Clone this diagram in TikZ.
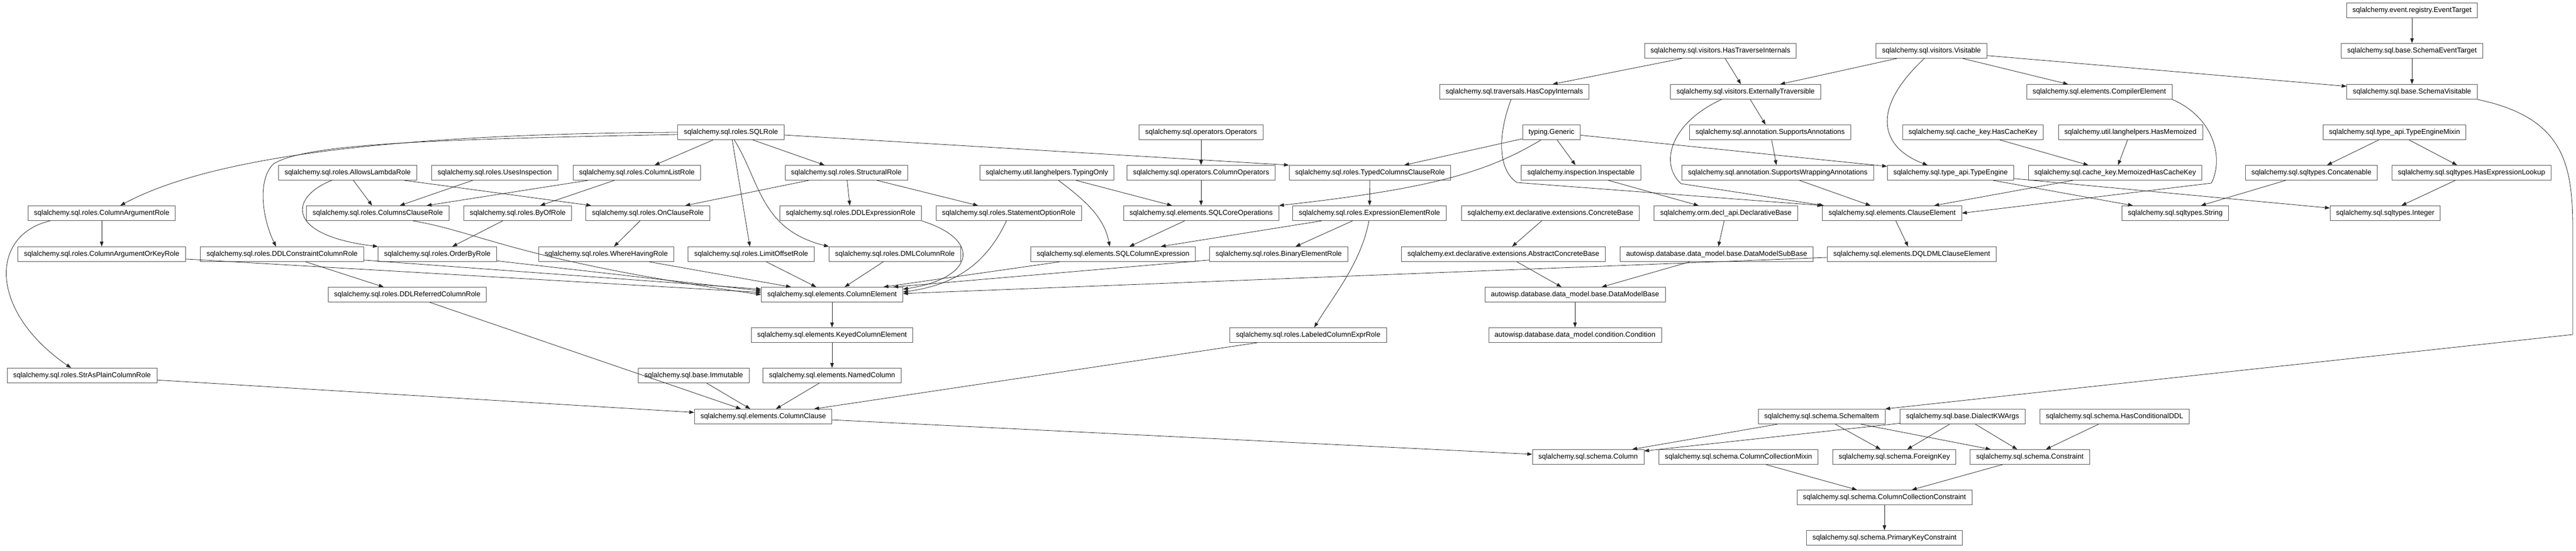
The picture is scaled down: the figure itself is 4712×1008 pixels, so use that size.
\documentclass[tikz,border=0pt]{standalone}
\usepackage{fontspec}
\setmainfont{Liberation Sans}
\usetikzlibrary{arrows.meta}

\begin{document}
\begin{tikzpicture}[x=1pt, y=-1pt,
    cls/.style={draw=black!65, line width=0.9pt, rectangle, minimum height=27pt,
        inner xsep=11pt, inner ysep=0pt, font=\fontsize{13}{15}\selectfont},
    inh/.style={-{Triangle[length=9pt,width=6.5pt]}, draw=black!85, line width=0.8pt}]
    \useasboundingbox (0,0) rectangle (4712,1008);
    % rank 0 to 3
    \node[cls] (evtarget) at (4412,19) {sqlalchemy.event.registry.EventTarget};
    \node[cls] (hastrav) at (3147,93) {sqlalchemy.sql.visitors.HasTraverseInternals};
    \node[cls] (visitable) at (3533,93) {sqlalchemy.sql.visitors.Visitable};
    \node[cls] (schevtarget) at (4412,93) {sqlalchemy.sql.base.SchemaEventTarget};
    \node[cls] (hascopy) at (2770,168) {sqlalchemy.sql.traversals.HasCopyInternals};
    \node[cls] (exttrav) at (3193,168) {sqlalchemy.sql.visitors.ExternallyTraversible};
    \node[cls] (compel) at (3840,168) {sqlalchemy.sql.elements.CompilerElement};
    \node[cls] (schvis) at (4412,168) {sqlalchemy.sql.base.SchemaVisitable};
    \node[cls] (sqlrole) at (1337,242) {sqlalchemy.sql.roles.SQLRole};
    \node[cls] (operators) at (2197,242) {sqlalchemy.sql.operators.Operators};
    \node[cls] (generic) at (2838,242) {typing.Generic};
    \node[cls] (suppann) at (3238,242) {sqlalchemy.sql.annotation.SupportsAnnotations};
    \node[cls] (hascachekey) at (3609,242) {sqlalchemy.sql.cache\_key.HasCacheKey};
    \node[cls] (hasmemo) at (3897,242) {sqlalchemy.util.langhelpers.HasMemoized};
    \node[cls] (temixin) at (4380,242) {sqlalchemy.sql.type\_api.TypeEngineMixin};
    % rank 4
    \node[cls] (allowslam) at (636,316) {sqlalchemy.sql.roles.AllowsLambdaRole};
    \node[cls] (usesinsp) at (905,316) {sqlalchemy.sql.roles.UsesInspection};
    \node[cls] (collist) at (1165,316) {sqlalchemy.sql.roles.ColumnListRole};
    \node[cls] (structural) at (1548,316) {sqlalchemy.sql.roles.StructuralRole};
    \node[cls] (typingonly) at (1915,316) {sqlalchemy.util.langhelpers.TypingOnly};
    \node[cls] (colops) at (2197,316) {sqlalchemy.sql.operators.ColumnOperators};
    \node[cls] (typedcols) at (2506,316) {sqlalchemy.sql.roles.TypedColumnsClauseRole};
    \node[cls] (inspectable) at (2892,316) {sqlalchemy.inspection.Inspectable};
    \node[cls] (suppwrap) at (3252,316) {sqlalchemy.sql.annotation.SupportsWrappingAnnotations};
    \node[cls] (typeengine) at (3568,316) {sqlalchemy.sql.type\_api.TypeEngine};
    \node[cls] (memocache) at (3869,316) {sqlalchemy.sql.cache\_key.MemoizedHasCacheKey};
    \node[cls] (concat) at (4228,316) {sqlalchemy.sql.sqltypes.Concatenable};
    \node[cls] (hasexpr) at (4521,316) {sqlalchemy.sql.sqltypes.HasExpressionLookup};
    % rank 5
    \node[cls] (colarg) at (186,390) {sqlalchemy.sql.roles.ColumnArgumentRole};
    \node[cls] (colsclause) at (691,390) {sqlalchemy.sql.roles.ColumnsClauseRole};
    \node[cls] (byof) at (947,390) {sqlalchemy.sql.roles.ByOfRole};
    \node[cls] (onclause) at (1185,390) {sqlalchemy.sql.roles.OnClauseRole};
    \node[cls] (ddlexpr) at (1556,390) {sqlalchemy.sql.roles.DDLExpressionRole};
    \node[cls] (stmtopt) at (1845,390) {sqlalchemy.sql.roles.StatementOptionRole};
    \node[cls] (sqlcore) at (2197,390) {sqlalchemy.sql.elements.SQLCoreOperations};
    \node[cls] (exprel) at (2505,390) {sqlalchemy.sql.roles.ExpressionElementRole};
    \node[cls] (concbase) at (2836,390) {sqlalchemy.ext.declarative.extensions.ConcreteBase};
    \node[cls] (declbase) at (3157,390) {sqlalchemy.orm.decl\_api.DeclarativeBase};
    \node[cls] (clauseel) at (3461,390) {sqlalchemy.sql.elements.ClauseElement};
    \node[cls] (string) at (3979,390) {sqlalchemy.sql.sqltypes.String};
    \node[cls] (integer) at (4363,390) {sqlalchemy.sql.sqltypes.Integer};
    % rank 6
    \node[cls] (colargkey) at (186,465) {sqlalchemy.sql.roles.ColumnArgumentOrKeyRole};
    \node[cls] (ddlcon) at (516,465) {sqlalchemy.sql.roles.DDLConstraintColumnRole};
    \node[cls] (orderby) at (800,465) {sqlalchemy.sql.roles.OrderByRole};
    \node[cls] (wherehaving) at (1109,465) {sqlalchemy.sql.roles.WhereHavingRole};
    \node[cls] (limoff) at (1374,465) {sqlalchemy.sql.roles.LimitOffsetRole};
    \node[cls] (dmlcol) at (1637,465) {sqlalchemy.sql.roles.DMLColumnRole};
    \node[cls] (sqlcolexp) at (2036,465) {sqlalchemy.sql.elements.SQLColumnExpression};
    \node[cls] (binel) at (2339,465) {sqlalchemy.sql.roles.BinaryElementRole};
    \node[cls] (absconc) at (2750,465) {sqlalchemy.ext.declarative.extensions.AbstractConcreteBase};
    \node[cls] (dmsub) at (3140,465) {autowisp.database.data\_model.base.DataModelSubBase};
    \node[cls] (dqldml) at (3497,465) {sqlalchemy.sql.elements.DQLDMLClauseElement};
    % rank 7 to 13
    \node[cls] (ddlref) at (745,539) {sqlalchemy.sql.roles.DDLReferredColumnRole};
    \node[cls] (colelem) at (1522,539) {sqlalchemy.sql.elements.ColumnElement};
    \node[cls] (dmbase) at (2881,539) {autowisp.database.data\_model.base.DataModelBase};
    \node[cls] (keyedcol) at (1522,613) {sqlalchemy.sql.elements.KeyedColumnElement};
    \node[cls] (labeled) at (2393,613) {sqlalchemy.sql.roles.LabeledColumnExprRole};
    \node[cls] (condition) at (2881,613) {autowisp.database.data\_model.condition.Condition};
    \node[cls] (strplain) at (150,687) {sqlalchemy.sql.roles.StrAsPlainColumnRole};
    \node[cls] (immutable) at (1269,687) {sqlalchemy.sql.base.Immutable};
    \node[cls] (namedcol) at (1522,687) {sqlalchemy.sql.elements.NamedColumn};
    \node[cls] (colclause) at (1396,762) {sqlalchemy.sql.elements.ColumnClause};
    \node[cls] (schitem) at (3332,762) {sqlalchemy.sql.schema.SchemaItem};
    \node[cls] (dialectkw) at (3590,762) {sqlalchemy.sql.base.DialectKWArgs};
    \node[cls] (hascond) at (3868,762) {sqlalchemy.sql.schema.HasConditionalDDL};
    \node[cls] (column) at (2905,836) {sqlalchemy.sql.schema.Column};
    \node[cls] (colcolmixin) at (3180,836) {sqlalchemy.sql.schema.ColumnCollectionMixin};
    \node[cls] (foreignkey) at (3465,836) {sqlalchemy.sql.schema.ForeignKey};
    \node[cls] (constraint) at (3713,836) {sqlalchemy.sql.schema.Constraint};
    \node[cls] (colcolcons) at (3447,910) {sqlalchemy.sql.schema.ColumnCollectionConstraint};
    \node[cls] (pkcons) at (3447,984) {sqlalchemy.sql.schema.PrimaryKeyConstraint};
    % top bases
    \draw[inh] (evtarget) -- (schevtarget);
    \draw[inh] (schevtarget) -- (schvis);
    \draw[inh] (visitable) -- (schvis);
    \draw[inh] (visitable) -- (exttrav);
    \draw[inh] (visitable) -- (compel);
    \draw[inh] ([xshift=-13pt]visitable.south) .. controls (3420,200) and (3440,270) .. ([xshift=-42pt]typeengine.north);
    \draw[inh] (hastrav) -- (hascopy);
    \draw[inh] (hastrav) -- (exttrav);
    \draw[inh] ([xshift=-6pt]hascopy.south) .. controls (2735,260) and (2745,315) .. (2775,334) -- (clauseel.north west);
    \draw[inh] ([xshift=-44pt]exttrav.south) .. controls (3055,225) and (3035,300) .. (3075,336) -- ([xshift=3pt]clauseel.north west);
    \draw[inh] (exttrav) -- (suppann);
    \draw[inh] (compel.south east) .. controls (4050,215) and (4068,290) .. (4045,335) -- (clauseel.east);
    \draw[inh] (schvis.south east) .. controls (4690,215) and (4706,300) .. (4706,420) -- (4706,612) -- (schitem.north east);
    % SQLRole and friends
    \draw[inh] (sqlrole.west) .. controls (700,245) and (380,290) .. ([xshift=34pt]colarg.north);
    \draw[inh] ([yshift=-4pt]sqlrole.west) .. controls (800,255) and (560,262) .. (500,300) .. controls (470,330) and (480,400) .. ([xshift=-11pt]ddlcon.north);
    \draw[inh] (sqlrole) -- (collist);
    \draw[inh] (sqlrole) -- (structural);
    \draw[inh] (sqlrole) -- (limoff);
    \draw[inh] ([xshift=6pt]sqlrole.south) .. controls (1390,330) and (1390,420) .. (dmlcol.north west);
    \draw[inh] ([yshift=-5pt]sqlrole.east) -- (typedcols.north west);
    \draw[inh] (operators) -- (colops);
    \draw[inh] (generic) -- (typedcols);
    \draw[inh] ([xshift=-19pt]generic.south) .. controls (2720,315) and (2620,345) .. (sqlcore.north east);
    \draw[inh] (generic) -- (inspectable);
    \draw[inh] (generic) -- (typeengine);
    \draw[inh] (suppann) -- (suppwrap);
    \draw[inh] (hascachekey) -- (memocache);
    \draw[inh] (hasmemo) -- (memocache);
    \draw[inh] (temixin) -- (concat);
    \draw[inh] (temixin) -- (hasexpr);
    % rank 4 down
    \draw[inh] (allowslam) -- (colsclause);
    \draw[inh] ([xshift=-29pt]allowslam.south) .. controls (530,360) and (520,430) .. (orderby.north west);
    \draw[inh] (allowslam) -- (onclause);
    \draw[inh] (usesinsp) -- (colsclause);
    \draw[inh] (collist) -- (colsclause);
    \draw[inh] (collist) -- (byof);
    \draw[inh] (structural) -- (onclause);
    \draw[inh] (structural) -- (ddlexpr);
    \draw[inh] (structural) -- (stmtopt);
    \draw[inh] (typingonly) -- (sqlcore);
    \draw[inh] ([xshift=21pt]typingonly.south) .. controls (1990,370) and (2020,400) .. ([xshift=-6pt]sqlcolexp.north);
    \draw[inh] (colops) -- (sqlcore);
    \draw[inh] (typedcols) -- (exprel);
    \draw[inh] (inspectable) -- (declbase);
    \draw[inh] (suppwrap) -- (clauseel);
    \draw[inh] (typeengine) -- (string);
    \draw[inh] (typeengine) -- (integer);
    \draw[inh] (memocache) -- (clauseel);
    \draw[inh] (concat) -- (string);
    \draw[inh] (hasexpr) -- (integer);
    % rank 5 down
    \draw[inh] (colarg) -- (colargkey);
    \draw[inh] ([xshift=-94pt]colarg.south) .. controls (-20,430) and (-20,570) .. ([xshift=-20pt]strplain.north);
    \draw[inh] ([xshift=64pt]colsclause.south) .. controls (880,425) and (940,475) .. (colelem.west);
    \draw[inh] (byof) -- (orderby);
    \draw[inh] (onclause) -- (wherehaving);
    \draw[inh] (ddlexpr.south east) .. controls (1800,440) and (1780,510) .. ([yshift=10pt]colelem.east);
    \draw[inh] ([xshift=-4pt]stmtopt.south) .. controls (1810,470) and (1760,520) .. ([yshift=5pt]colelem.east);
    \draw[inh] (sqlcore) -- (sqlcolexp);
    \draw[inh] (exprel) -- (sqlcolexp);
    \draw[inh] (exprel) -- (binel);
    \draw[inh] ([xshift=-1pt]exprel.south) .. controls (2490,480) and (2440,540) .. ([xshift=11pt]labeled.north);
    \draw[inh] (concbase) -- (absconc);
    \draw[inh] (declbase) -- (dmsub);
    \draw[inh] (clauseel) -- (dqldml);
    % rank 6 down
    \draw[inh] (colargkey) -- ([yshift=4pt]colelem.west);
    \draw[inh] (ddlcon) -- ([yshift=10pt]colelem.west);
    \draw[inh] (ddlcon) -- (ddlref);
    \draw[inh] (orderby) -- ([yshift=7pt]colelem.west);
    \draw[inh] (wherehaving) -- ([xshift=-75pt]colelem.north);
    \draw[inh] (limoff) -- ([xshift=-29pt]colelem.north);
    \draw[inh] (dmlcol) -- ([xshift=23pt]colelem.north);
    \draw[inh] (sqlcolexp) -- ([xshift=94pt]colelem.north);
    \draw[inh] (binel) -- ([xshift=112pt]colelem.north);
    \draw[inh] (absconc) -- (dmbase);
    \draw[inh] (dmsub) -- (dmbase);
    \draw[inh] (dqldml) -- ([yshift=2pt]colelem.east);
    % lower part
    \draw[inh] (ddlref) -- (colclause);
    \draw[inh] (colelem) -- (keyedcol);
    \draw[inh] (dmbase) -- (condition);
    \draw[inh] (keyedcol) -- (namedcol);
    \draw[inh] (labeled) -- (colclause);
    \draw[inh] (strplain) -- (colclause);
    \draw[inh] (immutable) -- (colclause);
    \draw[inh] (namedcol) -- (colclause);
    \draw[inh] (colclause) -- (column);
    \draw[inh] (schitem) -- (column);
    \draw[inh] (schitem) -- (foreignkey);
    \draw[inh] (schitem) -- (constraint);
    \draw[inh] (dialectkw) -- (column);
    \draw[inh] (dialectkw) -- (foreignkey);
    \draw[inh] (dialectkw) -- (constraint);
    \draw[inh] (hascond) -- (constraint);
    \draw[inh] (colcolmixin) -- (colcolcons);
    \draw[inh] (constraint) -- (colcolcons);
    \draw[inh] (colcolcons) -- (pkcons);
\end{tikzpicture}
\end{document}
